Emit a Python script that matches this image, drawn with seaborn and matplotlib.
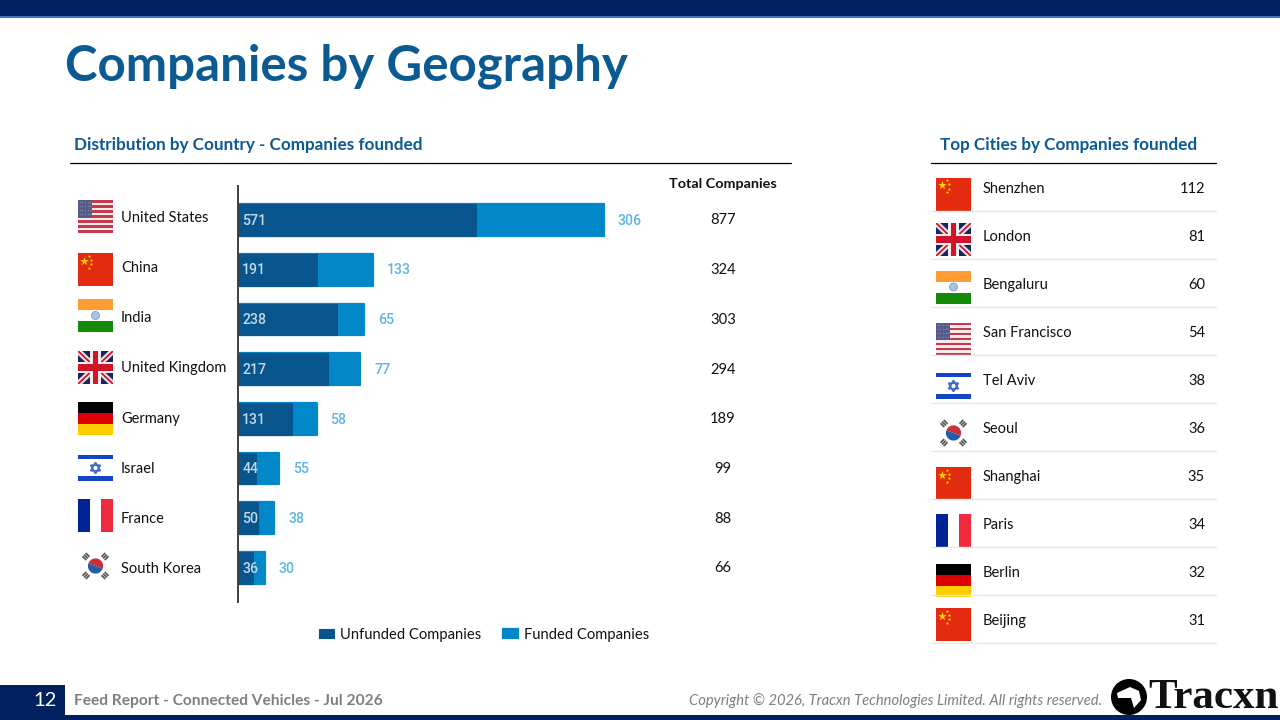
import matplotlib
matplotlib.use("Agg")
import matplotlib.pyplot as plt
from matplotlib.patches import Rectangle, Circle, Wedge, Polygon
import pandas as pd
import seaborn as sns

countries = ['United States', 'China', 'India', 'United Kingdom', 'Germany', 'Israel', 'France', 'South Korea']
country_flags = ['us', 'cn', 'in', 'uk', 'de', 'il', 'fr', 'kr']
unfunded = [571, 191, 238, 217, 131, 44, 50, 36]
funded = [306, 133, 65, 77, 58, 55, 38, 30]
totals = [877, 324, 303, 294, 189, 99, 88, 66]

cities = ['Shenzhen', 'London', 'Bengaluru', 'San Francisco', 'Tel Aviv', 'Seoul', 'Shanghai', 'Paris', 'Berlin', 'Beijing']
city_flags = ['cn', 'uk', 'in', 'us', 'il', 'kr', 'cn', 'fr', 'de', 'cn']
city_counts = [112, 81, 60, 54, 38, 36, 35, 34, 32, 31]

NAVY = '#002060'
TITLE_BLUE = '#0B5A92'
DARK_BAR = '#08548C'
LIGHT_BAR = '#0288C8'

sns.set_theme(style='white')
plt.rcParams['font.family'] = ['Lato', 'DejaVu Sans']

fig = plt.figure(figsize=(12.8, 7.2), dpi=100)
page = fig.add_axes([0, 0, 1, 1])
page.set_xlim(0, 1280)
page.set_ylim(720, 0)
page.axis('off')


def box(x, y, w, h, color, **kw):
    page.add_patch(Rectangle((x, y), w, h, facecolor=color, edgecolor='none', **kw))


def star(x, y, size, color):
    page.scatter([x], [y], s=size, marker='*', color=color, linewidths=0, zorder=3)


def flag_us(x, y, w, h):
    for i in range(13):
        box(x, y + i * h / 13, w, h / 13, '#C23B4E' if i % 2 == 0 else '#F7E9EA')
    box(x, y, w * 0.4, h * 0.54, '#565A8A', zorder=2.5)
    for row in range(4):
        for col in range(5):
            page.scatter([x + 1.8 + col * w * 0.075], [y + 2.2 + row * h * 0.12], s=1.2, color='#7E81A6',
                         linewidths=0, zorder=3)


def flag_cn(x, y, w, h):
    box(x, y, w, h, '#E32B10')
    star(x + w * 0.16, y + h * 0.24, 42, '#FFD400')
    for dx, dy in [(0.32, 0.09), (0.38, 0.2), (0.38, 0.34), (0.32, 0.44)]:
        star(x + w * dx, y + h * dy, 7, '#FFD400')


def flag_in(x, y, w, h):
    box(x, y, w, h / 3, '#FF9C33')
    box(x, y + 2 * h / 3, w, h / 3, '#138A08')
    page.add_patch(Circle((x + w / 2, y + h / 2), h * 0.12, facecolor='#A9C4E0', edgecolor='#7C9CC4', lw=0.6))


def flag_uk(x, y, w, h):
    clip = Rectangle((x, y), w, h, facecolor='#14295F', edgecolor='none')
    page.add_patch(clip)
    for x0, x1, col, lw in [(x, x + w, '#F2E6E8', 4.2), (x + w, x, '#F2E6E8', 4.2),
                            (x, x + w, '#CF142B', 1.3), (x + w, x, '#CF142B', 1.3)]:
        line, = page.plot([x0, x1], [y, y + h], color=col, lw=lw, solid_capstyle='butt')
        line.set_clip_path(clip)
    box(x + w * 0.35, y, w * 0.3, h, '#F5ECEE', zorder=3)
    box(x, y + h * 0.33, w, h * 0.34, '#F5ECEE', zorder=3)
    box(x + w * 0.42, y, w * 0.16, h, '#CF142B', zorder=3.1)
    box(x, y + h * 0.4, w, h * 0.2, '#CF142B', zorder=3.1)


def flag_de(x, y, w, h):
    for i, col in enumerate(['#000000', '#DD0000', '#FFCE00']):
        box(x, y + i * h / 3, w, h / 3, col)


def flag_il(x, y, w, h):
    box(x, y + h * 0.04, w, h * 0.15, '#1446C4')
    box(x, y + h * 0.79, w, h * 0.17, '#1446C4')
    cx, cy = x + w / 2, y + h * 0.5
    r = h * 0.2
    for sign in (1, -1):
        pts = [(cx, cy - sign * r), (cx - r * 0.87, cy + sign * r / 2), (cx + r * 0.87, cy + sign * r / 2)]
        page.add_patch(Polygon(pts, closed=True, fill=False, edgecolor='#3E68CC', lw=1.2))


def flag_fr(x, y, w, h):
    box(x, y, w / 3, h, '#002395')
    box(x + 2 * w / 3, y, w / 3, h, '#EF2B3D')


def flag_kr(x, y, w, h):
    cx, cy = x + w / 2, y + h / 2
    r = h * 0.23
    page.add_patch(Wedge((cx, cy), r, 200, 20, facecolor='#CD2E3A', edgecolor='none'))
    page.add_patch(Wedge((cx, cy), r, 20, 200, facecolor='#1F5FA8', edgecolor='none'))
    for dx, dy, ang in [(-1, -1, 1), (1, -1, -1), (-1, 1, -1), (1, 1, 1)]:
        tx, ty = cx + dx * 9.5, cy + dy * 9.5
        for k in (-1, 0, 1):
            ox, oy = k * 1.6, -k * 1.6 * ang
            page.plot([tx + ox - 1.9, tx + ox + 1.9], [ty + oy - 1.9 * ang, ty + oy + 1.9 * ang],
                      color='#5A5A5A', lw=1.3, solid_capstyle='butt')


draw_flag = {'us': flag_us, 'cn': flag_cn, 'in': flag_in, 'uk': flag_uk,
             'de': flag_de, 'il': flag_il, 'fr': flag_fr, 'kr': flag_kr}

# page furniture
box(0, 0, 1280, 16, NAVY)
box(0, 16, 1280, 2, '#4472C4')
box(0, 715, 1280, 5, NAVY)
box(0, 685, 65, 30, NAVY)
page.text(65, 66, 'Companies by Geography', color=TITLE_BLUE, fontsize=35.5, fontweight='bold', va='center')
page.text(74, 145, 'Distribution by Country - Companies founded', color=TITLE_BLUE, fontsize=12.35, fontweight='bold', va='center')
page.text(940, 145, 'Top Cities by Companies founded', color=TITLE_BLUE, fontsize=12.3, fontweight='bold', va='center')
page.plot([70, 791], [162.5, 162.5], color='black', lw=0.9)
page.plot([931, 1216], [162.5, 162.5], color='black', lw=0.9)
page.text(723, 184, 'Total Companies', color='#111111', fontsize=10.4, fontweight='bold', ha='center', va='center')
page.text(45, 701, '12', color='white', fontsize=14.5, ha='center', va='center')
page.text(74, 701, 'Feed Report - Connected Vehicles - Jul 2026', color='#7F7F7F', fontsize=11.2, fontweight='bold', va='center')
page.text(1102, 701, 'Copyright © 2026, Tracxn Technologies Limited. All rights reserved.', color='#7F7F7F',
          fontsize=10.6, style='italic', ha='right', va='center')
page.add_patch(Circle((1129, 697), 18, facecolor='black', edgecolor='none'))
page.add_patch(Polygon([(1117, 693), (1130, 687), (1139, 691), (1141, 700), (1134, 708), (1131, 698), (1118, 698)],
                       closed=True, facecolor='white', edgecolor='none'))
page.text(1148, 698, 'Tracxn', color='#111111', fontsize=31, fontweight='bold', family='Liberation Serif', va='center')

# country table
country_y = [216.5, 269.5, 315.5, 367.5, 418.5, 468, 515.5, 566]
label_y = [218, 268, 318, 368, 419, 469, 519, 569]
flag_h = [33, 33, 33, 33, 33, 28, 33, 33]
for i, name in enumerate(countries):
    h = flag_h[i]
    draw_flag[country_flags[i]](78, country_y[i] - h / 2, 35, h)
    page.text(121, label_y[i], name, color='#111111', fontsize=10.5, va='center')

# city table
city_flag_y = [194, 239.5, 287, 339, 386, 433, 483.5, 530, 580, 624.5]
for i, name in enumerate(cities):
    yc = 188 + i * 48
    h = 28 if city_flags[i] == 'il' else 33
    draw_flag[city_flags[i]](936, city_flag_y[i] - h / 2, 35, h)
    page.text(983, yc + 1, name, color='#111111', fontsize=10.5, va='center')
    page.text(1205, yc + 1, str(city_counts[i]), color='#111111', fontsize=10.5, ha='right', va='center')
    page.plot([932, 1216], [yc + 22.5, yc + 22.5], color='#E8E8E8', lw=1)

# bar chart
df = pd.DataFrame({'country': countries, 'unfunded': unfunded, 'funded': funded, 'total': totals})
ax = fig.add_axes([237.5 / 1280, 1 - 602 / 720, 422.5 / 1280, 416 / 720])
ax.patch.set_alpha(0)
sns.barplot(data=df, y='country', x='total', color=LIGHT_BAR, saturation=1, width=0.64, ax=ax, label='Funded Companies')
n_light = len(ax.patches)
sns.barplot(data=df, y='country', x='unfunded', color=DARK_BAR, saturation=1, width=0.64, ax=ax, label='Unfunded Companies')
for p in ax.patches[:n_light]:
    p.set_edgecolor(LIGHT_BAR)
    p.set_linewidth(1.6)
    p.set_joinstyle('round')
for p in ax.patches[n_light:]:
    p.set_edgecolor(DARK_BAR)
    p.set_linewidth(0.8)

ax.set_xlim(0, 422.5 / 0.418)
ax.set_ylim(7.684, -0.684)
ax.set(xlabel='', ylabel='', xticks=[], yticks=[])
sns.despine(ax=ax, top=True, right=True, bottom=True)
ax.spines['left'].set_color('#404040')
ax.spines['left'].set_linewidth(1.4)
ax.spines['left'].set_zorder(5)

for i in range(len(countries)):
    ax.annotate(str(unfunded[i]), (0, i), xytext=(3.4, -0.5), textcoords='offset points', color='#C4D8E8',
                fontsize=10.2, family='Roboto', fontweight='medium', va='center')
    ax.annotate(str(funded[i]), (totals[i], i), xytext=(10, -0.5), textcoords='offset points', color='#5FB4E2',
                fontsize=10.2, family='Roboto', fontweight='medium', va='center')
    page.text(723, 220.5 + i * 49.7, str(totals[i]), color='#111111', fontsize=10.6, ha='center', va='center')

handles, labels = ax.get_legend_handles_labels()
ax.get_legend().remove()
fig.legend(handles[::-1], labels[::-1], loc='center', bbox_to_anchor=(484 / 1280, 1 - 634.5 / 720), ncol=2, frameon=False,
           fontsize=10.6, handlelength=1.0, handleheight=0.6, handletextpad=0.4, columnspacing=1.5, labelcolor='#111111')

fig.savefig('out.png', dpi=100)
